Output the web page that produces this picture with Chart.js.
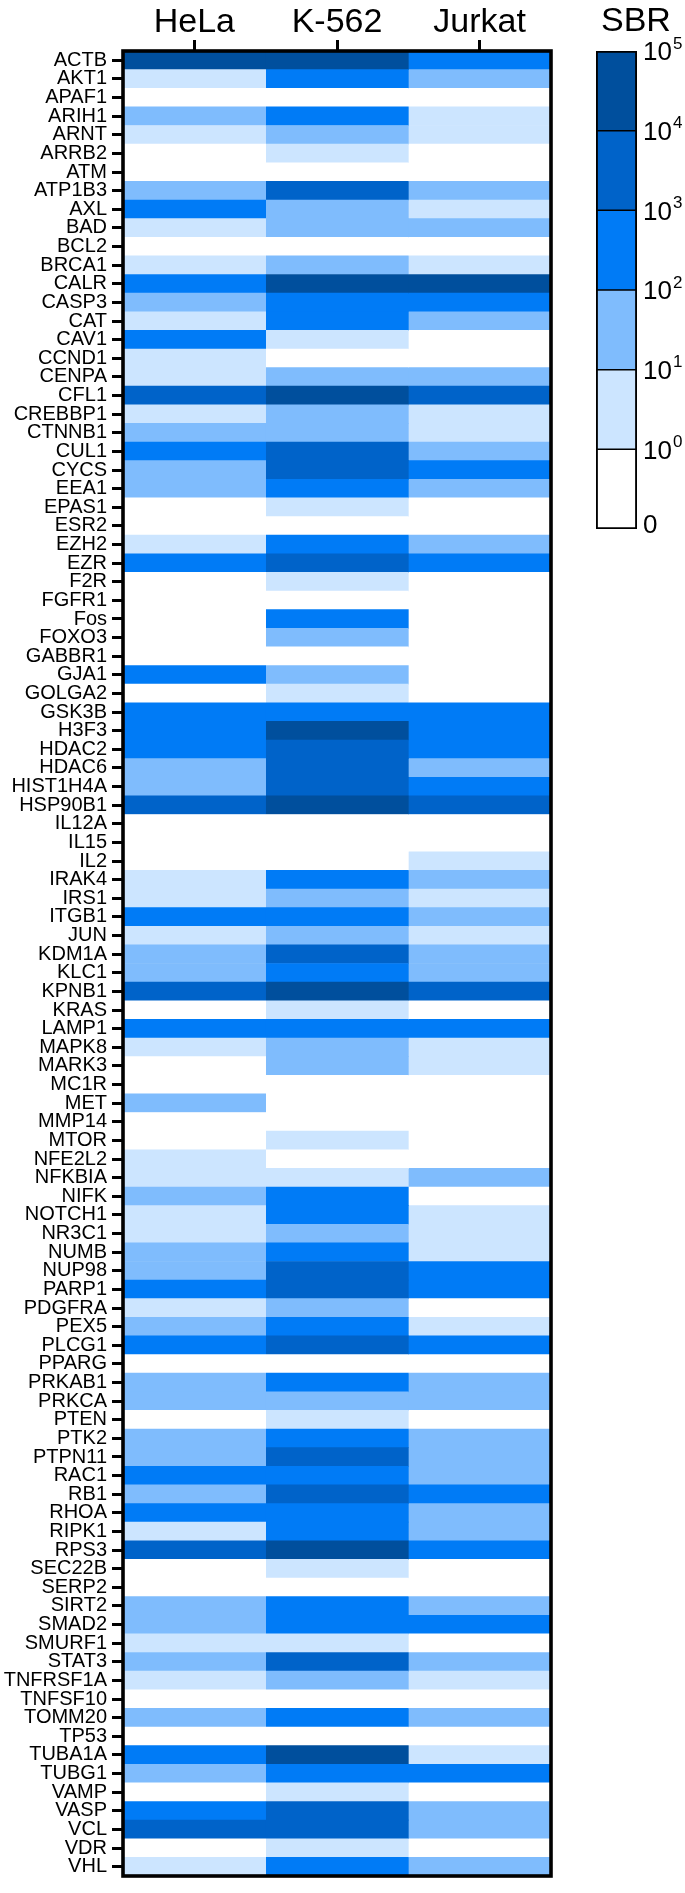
<!DOCTYPE html>
<html><head><meta charset="utf-8">
<script src="https://cdn.jsdelivr.net/npm/chart.js@4.4.1/dist/chart.umd.min.js"></script>
<style>
html,body{margin:0;padding:0;background:#fff;overflow:hidden;}
#wrap{position:relative;width:685px;height:1893px;}
#main{position:absolute;left:0;top:0;}
#legend{position:absolute;left:560px;top:0;}
</style></head><body>
<div id="wrap"><canvas id="main" width="685" height="1893"></canvas><canvas id="legend" width="125" height="560"></canvas></div>
<script>
// ---- data ----
const genes = ['ACTB','AKT1','APAF1','ARIH1','ARNT','ARRB2','ATM','ATP1B3','AXL','BAD','BCL2','BRCA1','CALR','CASP3','CAT','CAV1','CCND1','CENPA','CFL1','CREBBP1','CTNNB1','CUL1','CYCS','EEA1','EPAS1','ESR2','EZH2','EZR','F2R','FGFR1','Fos','FOXO3','GABBR1','GJA1','GOLGA2','GSK3B','H3F3','HDAC2','HDAC6','HIST1H4A','HSP90B1','IL12A','IL15','IL2','IRAK4','IRS1','ITGB1','JUN','KDM1A','KLC1','KPNB1','KRAS','LAMP1','MAPK8','MARK3','MC1R','MET','MMP14','MTOR','NFE2L2','NFKBIA','NIFK','NOTCH1','NR3C1','NUMB','NUP98','PARP1','PDGFRA','PEX5','PLCG1','PPARG','PRKAB1','PRKCA','PTEN','PTK2','PTPN11','RAC1','RB1','RHOA','RIPK1','RPS3','SEC22B','SERP2','SIRT2','SMAD2','SMURF1','STAT3','TNFRSF1A','TNFSF10','TOMM20','TP53','TUBA1A','TUBG1','VAMP','VASP','VCL','VDR','VHL'];
const cellLines = ['HeLa','K-562','Jurkat'];
// SBR bin per cell: 0 = 0..10^0, 1 = 10^0..10^1, 2 = 10^1..10^2, 3 = 10^2..10^3, 4 = 10^3..10^4, 5 = 10^4..10^5
const hela   = [5,1,0,2,1,0,0,2,3,1,0,1,3,2,1,3,1,1,4,1,2,3,2,2,0,0,1,3,0,0,0,0,0,3,0,3,3,3,2,2,4,0,0,0,1,1,3,1,2,2,4,0,3,1,0,0,2,0,0,1,1,2,1,1,2,2,3,1,2,3,0,2,2,0,2,2,3,2,3,1,4,0,0,2,2,1,2,1,0,2,0,3,2,0,3,4,0,1];
const k562   = [5,3,0,3,2,1,0,4,2,2,0,2,5,3,3,1,0,2,5,2,2,4,4,3,1,0,3,4,1,0,3,2,0,2,1,3,5,4,4,4,5,0,0,0,3,2,3,2,4,3,5,1,3,2,2,0,0,0,1,0,1,3,3,2,3,4,4,2,3,4,0,3,2,1,3,4,3,4,3,3,5,1,0,3,3,1,4,2,0,3,0,5,3,1,4,4,1,3];
const jurkat = [3,2,0,1,1,0,0,2,1,2,0,1,5,3,2,0,0,2,4,1,1,2,3,2,0,0,2,3,0,0,0,0,0,0,0,3,3,3,2,3,4,0,0,1,2,1,2,1,2,2,4,0,3,1,1,0,0,0,0,0,2,0,1,1,1,3,3,0,1,3,0,2,2,0,2,2,2,3,2,2,3,0,0,2,3,0,2,1,0,2,0,1,3,0,2,2,0,2];
const binColors = ['#ffffff','#cce5ff','#7fbcfd','#007bf6','#0063c9','#004f9d'];
const legendExponents = [null,0,1,2,3,4,5]; // labels at bin edges: 0, 10^0 ... 10^5

// ---- drawing ----
const FONT = '"Liberation Sans", Arial, Helvetica, sans-serif';
Chart.defaults.font.family = FONT;
Chart.defaults.color = '#000';

const frame = {
  id: 'frame',
  afterDatasetsDraw(chart) {
    const {ctx, chartArea: a} = chart;
    ctx.save();
    ctx.lineWidth = 3.6;
    ctx.strokeStyle = '#000';
    ctx.strokeRect(a.left, a.top, a.right - a.left, a.bottom - a.top);
    ctx.restore();
  }
};

const series = [hela, k562, jurkat];
new Chart(document.getElementById('main'), {
  type: 'bar',
  data: {
    labels: genes,
    datasets: series.map((lv, i) => ({
      label: cellLines[i],
      data: lv.map(() => 1),
      backgroundColor: lv.map(l => binColors[l]),
      borderWidth: 0,
      barPercentage: 1,
      categoryPercentage: 1
    }))
  },
  options: {
    indexAxis: 'y',
    responsive: false,
    animation: false,
    devicePixelRatio: 1,
    layout: { padding: { left: 0, right: 134, top: 0, bottom: 3 } },
    plugins: { legend: { display: false }, tooltip: { enabled: false } },
    scales: {
      x: {
        type: 'linear', position: 'top', stacked: true, min: 0, max: cellLines.length,
        afterBuildTicks: s => { s.ticks = cellLines.map((c, i) => ({ value: i + 0.5 })); },
        ticks: { callback: (v, i) => cellLines[i], font: { size: 34, lineHeight: 1.0 }, padding: 0, maxRotation: 0, autoSkip: false },
        grid: { drawOnChartArea: false, drawTicks: true, tickLength: 11, tickWidth: 3, tickColor: '#000' },
        border: { display: false },
        afterFit: s => { s.height = 51; }
      },
      y: {
        type: 'category', stacked: true, offset: true,
        ticks: { font: { size: 20 }, padding: 5, autoSkip: false },
        grid: { drawOnChartArea: false, offset: false, tickLength: 11, tickWidth: 3, tickColor: '#000' },
        border: { display: false },
        afterFit: s => { s.width = 123; }
      }
    }
  },
  plugins: [frame]
});

const legendLabels = {
  id: 'legendLabels',
  afterDraw(chart) {
    const ctx = chart.ctx, y = chart.scales.y;
    const x0 = chart.chartArea.right + 6;
    ctx.save();
    ctx.fillStyle = '#000';
    ctx.textAlign = 'left';
    ctx.textBaseline = 'middle';
    legendExponents.forEach((e, i) => {
      const py = y.getPixelForValue(i);
      ctx.font = '26px ' + FONT;
      if (e === null) {
        ctx.fillText('0', x0, py - 3);
      } else {
        ctx.fillText('10', x0, py + 2);
        const w = ctx.measureText('10').width;
        ctx.font = '17px ' + FONT;
        ctx.fillText(String(e), x0 + w + 1, py - 7);
      }
    });
    ctx.font = '34px ' + FONT;
    ctx.fillText('SBR', 41, 22);
    ctx.restore();
  }
};

new Chart(document.getElementById('legend'), {
  type: 'bar',
  data: {
    labels: ['SBR'],
    datasets: binColors.map((c, i) => ({
      data: [1],
      backgroundColor: c,
      borderColor: '#000',
      borderWidth: { left: 2.2, right: 2.2, top: i === binColors.length - 1 ? 2.2 : 1.1, bottom: i === 0 ? 2.2 : 1.1 },
      borderSkipped: false,
      barPercentage: 1,
      categoryPercentage: 1
    }))
  },
  options: {
    responsive: false,
    animation: false,
    devicePixelRatio: 1,
    layout: { padding: { left: 36, right: 48, top: 51, bottom: 31 } },
    plugins: { legend: { display: false }, tooltip: { enabled: false } },
    scales: {
      x: { display: false, stacked: true },
      y: { display: false, stacked: true, min: 0, max: binColors.length }
    }
  },
  plugins: [legendLabels]
});
</script>
</body></html>
